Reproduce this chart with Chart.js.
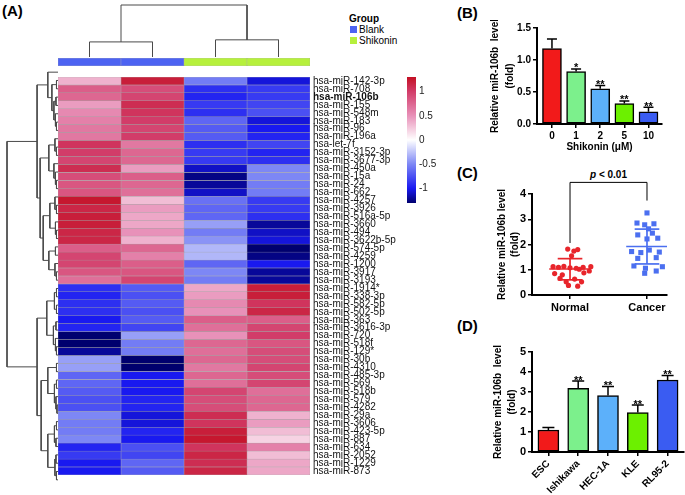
<!DOCTYPE html>
<html>
<head>
<meta charset="utf-8">
<script src="https://cdn.jsdelivr.net/npm/chart.js@4.4.1/dist/chart.umd.min.js"></script>
<style>
body { margin: 0; background: #fff; }
#wrap { position: relative; width: 685px; height: 495px; overflow: hidden; font-family: "Liberation Sans", Arial, sans-serif; color: #000; }
#wrap canvas { position: absolute; }
.panel { position: absolute; font-weight: bold; font-size: 15px; line-height: 1; }
.leg { position: absolute; font-size: 10px; line-height: 1; }
.sw { position: absolute; width: 7px; height: 7px; }
</style>
</head>
<body>
<div id="wrap">
  <div class="panel" style="left:2px;top:3px">(A)</div>
  <div class="panel" style="left:457px;top:5px">(B)</div>
  <div class="panel" style="left:457px;top:165px">(C)</div>
  <div class="panel" style="left:457px;top:318px">(D)</div>
  <div class="leg" style="left:349px;top:14px;font-weight:bold">Group</div>
  <div class="sw" id="sw0" style="left:350px;top:26px"></div>
  <div class="leg" style="left:359px;top:25px">Blank</div>
  <div class="sw" id="sw1" style="left:350px;top:37px"></div>
  <div class="leg" style="left:359px;top:36px">Shikonin</div>
  <div class="leg" style="left:570px;top:170px;width:77px;text-align:center;font-weight:bold"><i>p</i> &lt; 0.01</div>
</div>
<script>
// ---- (A) heatmap data ----
const mirs = ['hsa-miR-142-3p','hsa-miR-708','hsa-miR-106b','hsa-miR-155','hsa-miR-548m','hsa-miR-183','hsa-miR-96','hsa-miR-196a','hsa-let-7f','hsa-miR-3152-3p',
  'hsa-miR-3677-3p','hsa-miR-450a','hsa-miR-15a','hsa-miR-24','hsa-miR-662','hsa-miR-4257','hsa-miR-3926','hsa-miR-516a-5p','hsa-miR-3660','hsa-miR-494',
  'hsa-miR-3622b-5p','hsa-miR-574-5p','hsa-miR-4259','hsa-miR-1200','hsa-miR-3917','hsa-miR-3193','hsa-miR-1914*','hsa-miR-338-3p','hsa-miR-582-5p','hsa-miR-502-5p',
  'hsa-miR-363','hsa-miR-3616-3p','hsa-miR-720','hsa-miR-518f','hsa-miR-129*','hsa-miR-30b','hsa-miR-4310','hsa-miR-485-3p','hsa-miR-569','hsa-miR-518b',
  'hsa-miR-579','hsa-miR-4282','hsa-miR-29a','hsa-miR-3606','hsa-miR-423-5p','hsa-miR-887','hsa-miR-634','hsa-miR-2052','hsa-miR-1229','hsa-miR-873'];
const boldMir = 'hsa-miR-106b';
const colGroups = ['Blank', 'Blank', 'Shikonin', 'Shikonin'];
const groupNames = ['Blank', 'Shikonin'];
const groupColors = ['#4d63f2', '#b6f03c'];

const blank1 = [0.35,0.8,0.75,0.45,0.55,0.6,0.65,0.65,1.05,1.0,0.95,1.1,0.9,0.85,0.85,1.25,1.15,1.2,1.2,1.15,1.15,0.8,0.95,0.95,0.85,0.7,
  -0.9,-0.95,-0.9,-0.9,-1.0,-0.95,-1.3,-1.3,-1.2,-0.4,-0.4,-0.65,-0.65,-0.7,-0.75,-0.75,-0.5,-0.55,-0.55,-0.5,-0.95,-0.85,-1.0,-1.0];
const blank2 = [1.2,0.9,0.95,1.1,1.05,1.0,0.95,1.0,0.65,0.75,0.75,0.45,0.8,0.75,0.7,0.3,0.45,0.4,0.4,0.5,0.35,0.75,0.6,0.8,0.85,0.95,
  -0.7,-0.75,-0.7,-0.75,-0.7,-0.8,-0.4,-0.55,-0.55,-1.3,-1.3,-1.0,-1.0,-1.0,-0.95,-0.95,-1.05,-1.05,-0.95,-1.0,-0.75,-0.8,-0.65,-0.7];
const shik1 = [-0.55,-0.9,-0.95,-0.85,-0.9,-0.65,-0.7,-0.7,-0.9,-0.85,-0.85,-1.1,-1.25,-1.2,-1.1,-0.6,-0.65,-0.65,-0.4,-0.55,-0.45,-0.3,-0.3,-0.65,-0.5,-0.55,
  0.4,0.45,0.55,0.5,0.8,0.7,0.5,0.75,0.7,0.75,0.65,0.75,0.7,0.95,0.9,0.9,1.1,1.05,1.2,1.25,1.05,1.15,1.1,1.15];
const shik2 = [-1.05,-0.85,-0.85,-0.8,-0.75,-1.05,-1.0,-0.95,-0.8,-0.95,-0.9,-0.5,-0.5,-0.55,-0.55,-0.85,-0.85,-0.9,-1.2,-1.1,-1.05,-1.3,-1.25,-1.0,-1.2,-1.2,
  1.2,1.2,1.05,1.15,0.8,0.95,1.0,0.85,0.9,0.9,0.95,0.9,0.95,0.7,0.75,0.75,0.35,0.45,0.3,0.2,0.6,0.3,0.4,0.4];
const heatColumns = [blank1, blank2, shik1, shik2];
const colorTicks = [-1, -0.5, 0, 0.5, 1];

// dendrograms: [left, right, height], leaves are row / column indices
const rowTree = [
  [ [0, [[1, 2, .03], [[3, 4, .04], [5, [6, 7, .03], .05], .08], .12], .2],
    [ [[8, [9, 10, .03], .06], [11, [12, [13, 14, .03], .05], .08], .18],
      [ [[15, [16, 17, .03], .06], [18, [19, 20, .03], .05], .16],
        [[21, 22, .05], [23, [24, 25, .03], .06], .18], .29], .35], .41],
  [ [[[26, 27, .03], [28, 29, .03], .07], [[30, 31, .04], [32, [33, 34, .03], .05], .09], .22],
    [ [[35, 36, .03], [[37, 38, .03], [39, [40, 41, .02], .04], .07], .2],
      [[[42, 43, .03], [44, 45, .04], .07], [[46, 47, .04], [48, 49, .03], .06], .2], .33], .41],
  1.0];
const colTree = [[0, 1, .29], [2, 3, .33], 1.0];

// ---- (B) ----
const doses = ['0', '1', '2', '5', '10'];
const doseLevel = [1.18, 0.82, 0.55, 0.32, 0.19];
const doseErr = [0.15, 0.04, 0.05, 0.04, 0.07];
const doseStars = ['', '*', '**', '**', '**'];

// ---- (C) ---- [jitter, value]
const groups = ['Normal', 'Cancer'];
const normalPts = [[-0.03,1.82],[0.05,1.74],[0.10,1.80],[0.02,1.55],[-0.22,1.12],[-0.15,1.10],[-0.08,1.13],[0.0,1.08],[0.08,1.06],[0.17,1.10],[0.27,1.12],
  [0.12,1.02],[-0.2,0.85],[-0.1,0.80],[0.18,0.88],[0.25,0.95],[-0.13,0.66],[0.06,0.63],[-0.05,0.52],[0.15,0.52],[-0.02,0.38],[0.1,0.35]];
const cancerPts = [[0.0,3.25],[-0.13,2.85],[-0.03,2.78],[0.09,2.82],[0.02,2.62],[-0.12,2.38],[0.07,2.45],[0.0,2.22],[0.14,2.25],[-0.2,1.72],
  [-0.08,1.68],[0.03,1.78],[0.16,1.70],[-0.12,1.45],[0.12,1.48],[-0.17,1.15],[-0.02,1.06],[0.2,1.12],[-0.03,0.86],[0.12,0.95]];
const groupMean = [1.03, 1.92];
const groupSD = [[0.60, 1.44], [1.23, 2.61]];
const bracketLevels = [2.06, 4.46, 3.74];

// ---- (D) ----
const cellLines = ['ESC', 'Ishikawa', 'HEC-1A', 'KLE', 'RL95-2'];
const cellLevel = [1.10, 3.18, 2.82, 1.97, 3.60];
const cellErr = [0.12, 0.37, 0.45, 0.38, 0.22];
const cellStars = ['', '**', '**', '**', '**'];

const barColors = ['#f21a1a', '#7cf08c', '#5cb0fa', '#6cf000', '#3a5cf2'];
const ptColors = ['#e8252b', '#4b6ff0'];

const colorStops = [[-1.3, [0, 0, 110]], [-1.0, [25, 25, 240]], [-0.5, [125, 135, 245]], [0, [255, 255, 255]],
  [0.5, [232, 145, 185]], [1.0, [210, 60, 105]], [1.3, [195, 15, 35]]];

function heatColor(v) {
  for (let i = 1; i < colorStops.length; i++) {
    const [v0, c0] = colorStops[i - 1];
    const [v1, c1] = colorStops[i];
    if (v <= v1 || i === colorStops.length - 1) {
      const t = Math.max(0, Math.min(1, (v - v0) / (v1 - v0)));
      return 'rgb(' + c0.map((c, k) => Math.round(c + (c1[k] - c) * t)).join(',') + ')';
    }
  }
}

Chart.defaults.font.family = '"Liberation Sans", Arial, sans-serif';
Chart.defaults.color = '#000';
Chart.defaults.animation = false;
Chart.defaults.responsive = false;
Chart.defaults.plugins.legend.display = false;
Chart.defaults.plugins.tooltip.enabled = false;

function place(left, top, w, h) {
  const c = document.createElement('canvas');
  c.width = w; c.height = h;
  c.style.left = left + 'px'; c.style.top = top + 'px';
  c.style.width = w + 'px'; c.style.height = h + 'px';
  document.getElementById('wrap').appendChild(c);
  return c;
}

function dendroSegments(tree, vertical) {
  const segs = [];
  (function walk(n) {
    if (typeof n === 'number') return { p: n + 0.5, h: 0 };
    const a = walk(n[0]), b = walk(n[1]), h = n[2];
    const pts = [[a.h, a.p], [h, a.p], [h, b.p], [b.h, b.p]];
    segs.push(pts.map(([hh, pp]) => vertical ? { x: pp, y: hh } : { x: hh, y: pp }));
    return { p: (a.p + b.p) / 2, h: h };
  })(tree);
  return segs.map(d => ({ data: d, showLine: true, borderColor: '#4a4a4a', borderWidth: 1, pointRadius: 0, clip: false }));
}

document.getElementById('sw0').style.background = groupColors[0];
document.getElementById('sw1').style.background = groupColors[1];

// row dendrogram
new Chart(place(4, 66, 56, 420), {
  type: 'scatter',
  data: { datasets: dendroSegments(rowTree, false) },
  options: {
    layout: { padding: { left: 3, right: 2, top: 2, bottom: 2 } },
    scales: {
      x: { type: 'linear', display: false, min: 0, max: 1, reverse: true },
      y: { type: 'linear', display: false, min: 0, max: mirs.length, reverse: true }
    }
  }
});

// column dendrogram
new Chart(place(58, 3, 252, 56), {
  type: 'scatter',
  data: { datasets: dendroSegments(colTree, true) },
  options: {
    layout: { padding: { top: 2, bottom: 2 } },
    scales: {
      x: { type: 'linear', display: false, min: 0, max: colGroups.length },
      y: { type: 'linear', display: false, min: 0, max: 1 }
    }
  }
});

// group annotation bar
new Chart(place(58, 58, 252, 8), {
  type: 'bar',
  data: {
    labels: colGroups,
    datasets: [{
      data: colGroups.map(() => 1),
      backgroundColor: colGroups.map(g => groupColors[groupNames.indexOf(g)]),
      borderColor: '#a3a3a3', borderWidth: 0.5, borderSkipped: false,
      barPercentage: 1, categoryPercentage: 1
    }]
  },
  options: { scales: { x: { display: false }, y: { display: false, min: 0, max: 1 } } }
});

// heatmap
new Chart(place(58, 68, 347, 416), {
  type: 'bar',
  data: {
    labels: mirs,
    datasets: heatColumns.map(col => ({
      data: col.map(() => 1),
      backgroundColor: col.map(heatColor),
      borderColor: '#a3a3a3', borderWidth: 0.5, borderSkipped: false,
      barPercentage: 1, categoryPercentage: 1
    }))
  },
  options: {
    indexAxis: 'y',
    scales: {
      x: { stacked: true, display: false, min: 0, max: heatColumns.length },
      y: {
        stacked: true, position: 'right',
        grid: { display: false, drawTicks: false, tickLength: 0 }, border: { display: false },
        ticks: {
          autoSkip: false, padding: 3, color: '#111',
          font: c => ({ size: 10, weight: mirs[c.index] === boldMir ? 'bold' : 'normal' })
        },
        afterFit(s) { s.width = 95; }
      }
    }
  }
});

// colour key
new Chart(place(407, 68, 40, 144), {
  type: 'bar',
  data: {
    labels: [''],
    datasets: [{
      data: [[colorStops[0][0], colorStops[colorStops.length - 1][0]]],
      backgroundColor(c) {
        const a = c.chart.chartArea;
        if (!a) return '#fff';
        const lo = colorStops[0][0], hi = colorStops[colorStops.length - 1][0];
        const g = c.chart.ctx.createLinearGradient(0, a.bottom, 0, a.top);
        for (let k = 0; k <= 52; k++) {
          const v = lo + (hi - lo) * k / 52;
          g.addColorStop(k / 52, heatColor(v));
        }
        return g;
      },
      borderWidth: 0, barPercentage: 1, categoryPercentage: 1
    }]
  },
  options: {
    scales: {
      x: { display: false },
      y: {
        min: colorStops[0][0], max: colorStops[colorStops.length - 1][0], position: 'right',
        grid: { display: false, drawTicks: false, tickLength: 0 }, border: { display: false },
        afterBuildTicks(s) { s.ticks = colorTicks.map(v => ({ value: v })); },
        ticks: { padding: 3, color: '#222', font: { size: 10 }, callback: v => String(v) },
        afterFit(s) { s.width = 31; }
      }
    }
  }
});

// error bars + stars above bars
const errorBars = {
  id: 'errorBars',
  afterDatasetsDraw(chart, args, o) {
    if (!o.err) return;
    const { ctx, scales: { y } } = chart;
    const ds = chart.data.datasets[0];
    ctx.save();
    ctx.strokeStyle = '#000';
    ctx.lineWidth = 1.5;
    ctx.fillStyle = '#000';
    ctx.font = 'bold 11px "Liberation Sans", Arial, sans-serif';
    ctx.textAlign = 'center';
    chart.getDatasetMeta(0).data.forEach((bar, i) => {
      const top = y.getPixelForValue(ds.data[i].y + o.err[i]);
      ctx.beginPath();
      ctx.moveTo(bar.x, bar.y);
      ctx.lineTo(bar.x, top);
      ctx.moveTo(bar.x - o.cap, top);
      ctx.lineTo(bar.x + o.cap, top);
      ctx.stroke();
      if (o.stars[i]) ctx.fillText(o.stars[i], bar.x, top + 2.5);
    });
    ctx.restore();
  }
};

function axisStyle(extra) {
  return Object.assign({
    grid: { drawOnChartArea: false, color: '#000', lineWidth: 1.5, tickLength: 4, offset: false },
    border: { color: '#000', width: 2 }
  }, extra);
}

// (B)
new Chart(place(488, 20, 184, 136), {
  type: 'bar',
  data: {
    datasets: [{
      data: doseLevel.map((v, i) => ({ x: i, y: v })),
      backgroundColor: barColors, borderColor: '#000', borderWidth: 1.5,
      borderSkipped: false, barThickness: 19
    }]
  },
  options: {
    layout: { padding: { top: 7, right: 10 } },
    plugins: { errorBars: { err: doseErr, stars: doseStars, cap: 5 } },
    scales: {
      x: axisStyle({
        type: 'linear', min: -0.62, max: 4.56, offset: false,
        afterBuildTicks(s) { s.ticks = doses.map((d, i) => ({ value: i })); },
        ticks: { callback: v => doses[v], autoSkip: false, maxRotation: 0, padding: 2, font: { size: 10, weight: 'bold' } },
        title: { display: true, text: 'Shikonin (μM)', font: { size: 10, weight: 'bold' }, padding: { top: 2, bottom: 3 } },
        afterFit(s) { s.height = 32; }
      }),
      y: axisStyle({
        min: 0, max: 1.5,
        afterBuildTicks(s) { s.ticks = [0, 0.5, 1, 1.5].map(v => ({ value: v })); },
        ticks: { callback: v => v.toFixed(1), padding: 2, font: { size: 10, weight: 'bold' } },
        title: { display: true, text: ['Relative miR-106b  level', '(fold)'], font: { size: 10, weight: 'bold', lineHeight: 1.5 }, padding: { top: 0, bottom: 0 } },
        afterFit(s) { s.width = 49; }
      })
    }
  },
  plugins: [errorBars]
});

// (C)
const bracket = {
  id: 'bracket',
  afterDraw(chart, args, o) {
    if (!o.levels) return;
    const { ctx, scales: { x, y } } = chart;
    const [l, t, r] = o.levels;
    ctx.save();
    ctx.strokeStyle = '#000';
    ctx.lineWidth = 1;
    ctx.beginPath();
    ctx.moveTo(x.getPixelForValue(1), y.getPixelForValue(l));
    ctx.lineTo(x.getPixelForValue(1), y.getPixelForValue(t));
    ctx.lineTo(x.getPixelForValue(2), y.getPixelForValue(t));
    ctx.lineTo(x.getPixelForValue(2), y.getPixelForValue(r));
    ctx.stroke();
    ctx.restore();
  }
};

function statLines(gi) {
  const cx = gi + 1, m = groupMean[gi], [lo, hi] = groupSD[gi];
  const segs = [
    [[cx - 0.27, m], [cx + 0.27, m]],
    [[cx, lo], [cx, hi]],
    [[cx - 0.16, lo], [cx + 0.16, lo]],
    [[cx - 0.16, hi], [cx + 0.16, hi]]
  ];
  return segs.map(s => ({
    data: s.map(([x, y]) => ({ x, y })), showLine: true, pointRadius: 0,
    borderColor: ptColors[gi], borderWidth: 1.7
  }));
}

new Chart(place(496, 165, 189, 150), {
  type: 'scatter',
  data: {
    datasets: [
      ...statLines(0), ...statLines(1),
      { data: normalPts.map(([o, v]) => ({ x: 1 + o, y: v })), pointRadius: 2.6, pointBackgroundColor: ptColors[0], pointBorderWidth: 0 },
      { data: cancerPts.map(([o, v]) => ({ x: 2 + o, y: v })), pointStyle: 'rect', pointRadius: 3.6, pointBackgroundColor: ptColors[1], pointBorderWidth: 0 }
    ]
  },
  options: {
    layout: { padding: { top: 29, right: 18 } },
    plugins: { bracket: { levels: bracketLevels } },
    scales: {
      x: axisStyle({
        type: 'linear', min: 0.506, max: 2.26,
        afterBuildTicks(s) { s.ticks = groups.map((g, i) => ({ value: i + 1 })); },
        ticks: { callback: v => groups[v - 1], autoSkip: false, maxRotation: 0, padding: 2, font: { size: 11, weight: 'bold' } },
        afterFit(s) { s.height = 20; }
      }),
      y: axisStyle({
        min: 0, max: 4,
        ticks: { stepSize: 1, padding: 2, font: { size: 11, weight: 'bold' } },
        title: { display: true, text: ['Relative miR-106b level', '(fold)'], font: { size: 10, weight: 'bold', lineHeight: 1.3 }, padding: { top: 0, bottom: 0 } },
        afterFit(s) { s.width = 36; }
      })
    }
  },
  plugins: [bracket]
});

// (D)
new Chart(place(491, 340, 194, 155), {
  type: 'bar',
  data: {
    datasets: [{
      data: cellLevel.map((v, i) => ({ x: i, y: v })),
      backgroundColor: barColors, borderColor: '#000', borderWidth: 1.5,
      borderSkipped: false, barThickness: 21
    }]
  },
  options: {
    layout: { padding: { top: 12, right: 1 } },
    plugins: { errorBars: { err: cellErr, stars: cellStars, cap: 6 } },
    scales: {
      x: axisStyle({
        type: 'linear', min: -0.55, max: 4.55, offset: false,
        afterBuildTicks(s) { s.ticks = cellLines.map((d, i) => ({ value: i })); },
        ticks: { callback: v => cellLines[v], autoSkip: false, minRotation: 45, maxRotation: 45, padding: 2, font: { size: 10, weight: 'bold' } },
        afterFit(s) { s.height = 43; }
      }),
      y: axisStyle({
        min: 0, max: 5,
        ticks: { stepSize: 1, padding: 2, font: { size: 11, weight: 'bold' } },
        title: { display: true, text: ['Relative miR-106b  level', '(fold)'], font: { size: 10, weight: 'bold', lineHeight: 1.4 }, padding: { top: 0, bottom: 0 } },
        afterFit(s) { s.width = 41; }
      })
    }
  },
  plugins: [errorBars]
});
</script>
</body>
</html>
